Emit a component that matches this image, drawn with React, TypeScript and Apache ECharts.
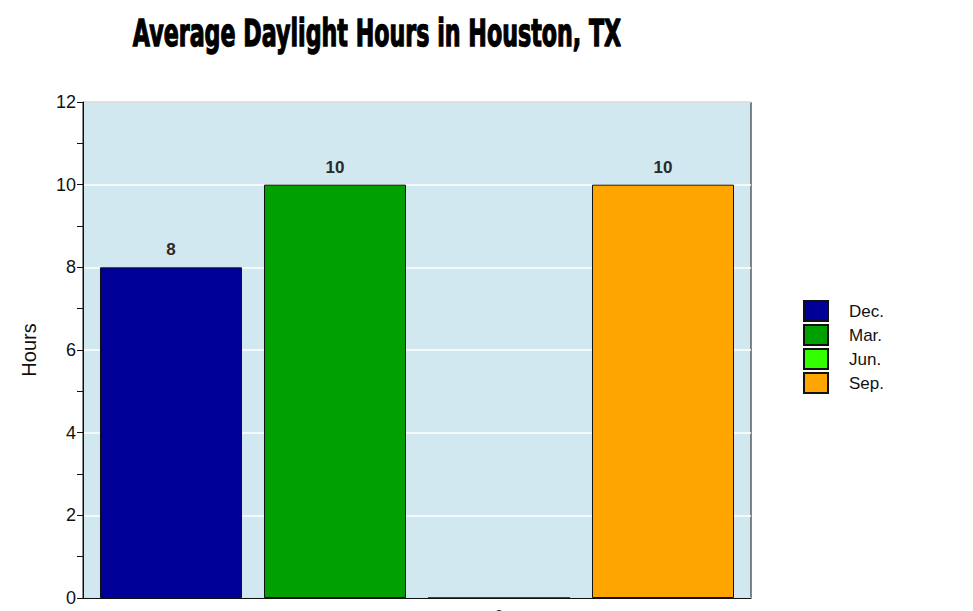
import React, { useEffect, useRef } from "react";
import * as echarts from "echarts";

const categories = [""];
const seriesNames = ["Dec.", "Mar.", "Jun.", "Sep."];
const seriesValues = [8, 10, 0, 10];
const seriesColors = ["#000099", "#00a000", "#33ff00", "#ffa500"];
const titleText = "Average Daylight Hours in Houston, TX";
const yAxisName = "Hours";

export default function App() {
  const ref = useRef<HTMLDivElement>(null);
  useEffect(() => {
    if (!ref.current) return;
    const chart = echarts.init(ref.current, null, { renderer: "svg" });
    const font = "'Liberation Sans', Arial, sans-serif";
    const option: any = {
      animation: false,
      backgroundColor: "#ffffff",
      graphic: [
        {
          type: "text",
          x: 377,
          y: 33,
          scaleX: 0.6,
          style: {
            text: titleText,
            font: "bold 37px 'DejaVu Sans', sans-serif",
            fill: "#000",
            stroke: "#000",
            lineWidth: 1.4,
            textAlign: "center",
            textVerticalAlign: "middle",
          },
        },
      ],
      grid: {
        left: 83,
        top: 102,
        width: 668,
        height: 496,
        show: true,
        backgroundColor: "#d1e8f0",
        borderColor: "#111",
        borderWidth: 1,
      },
      legend: {
        orient: "vertical",
        left: 803,
        top: 300,
        itemWidth: 24,
        itemHeight: 20,
        itemGap: 2,
        padding: 0,
        icon: "rect",
        data: seriesNames,
        textStyle: {
          fontSize: 17,
          lineHeight: 20,
          color: "#111",
          fontFamily: font,
          padding: [0, 0, 0, 16],
        },
      },
      xAxis: {
        type: "category",
        data: categories,
        axisLine: { show: true, lineStyle: { color: "#111", width: 1 } },
        axisTick: { show: false },
        axisLabel: { show: false },
        splitLine: { show: false },
      },
      yAxis: {
        type: "value",
        min: 0,
        max: 12,
        interval: 2,
        name: yAxisName,
        nameLocation: "middle",
        nameGap: 44,
        nameTextStyle: { fontSize: 20, color: "#111", fontFamily: font },
        axisLine: { show: true, lineStyle: { color: "#111", width: 1 } },
        axisTick: { show: true, length: 6, lineStyle: { color: "#111" } },
        minorTick: { show: true, splitNumber: 2, length: 6, lineStyle: { color: "#111" } },
        axisLabel: { fontSize: 18, color: "#111", fontFamily: font, margin: 7 },
        splitLine: { show: true, lineStyle: { color: "#ffffff", width: 1.5 } },
      },
      series: seriesNames.map((name, i) => ({
        name,
        type: "bar",
        data: [seriesValues[i]],
        barWidth: 142,
        barGap: "15.5%",
        itemStyle: { color: seriesColors[i], borderColor: "#111", borderWidth: 1 },
        label: {
          show: true,
          position: seriesValues[i] === 0 ? "bottom" : "top",
          distance: 9,
          fontSize: 17,
          fontWeight: "bold",
          color: "#2a2a2a",
          fontFamily: font,
        },
      })),
    };
    chart.setOption(option);
    return () => chart.dispose();
  }, []);
  return (
    <div
      ref={ref}
      style={{ position: "absolute", left: 0, top: 0, width: 973, height: 611 }}
    />
  );
}
